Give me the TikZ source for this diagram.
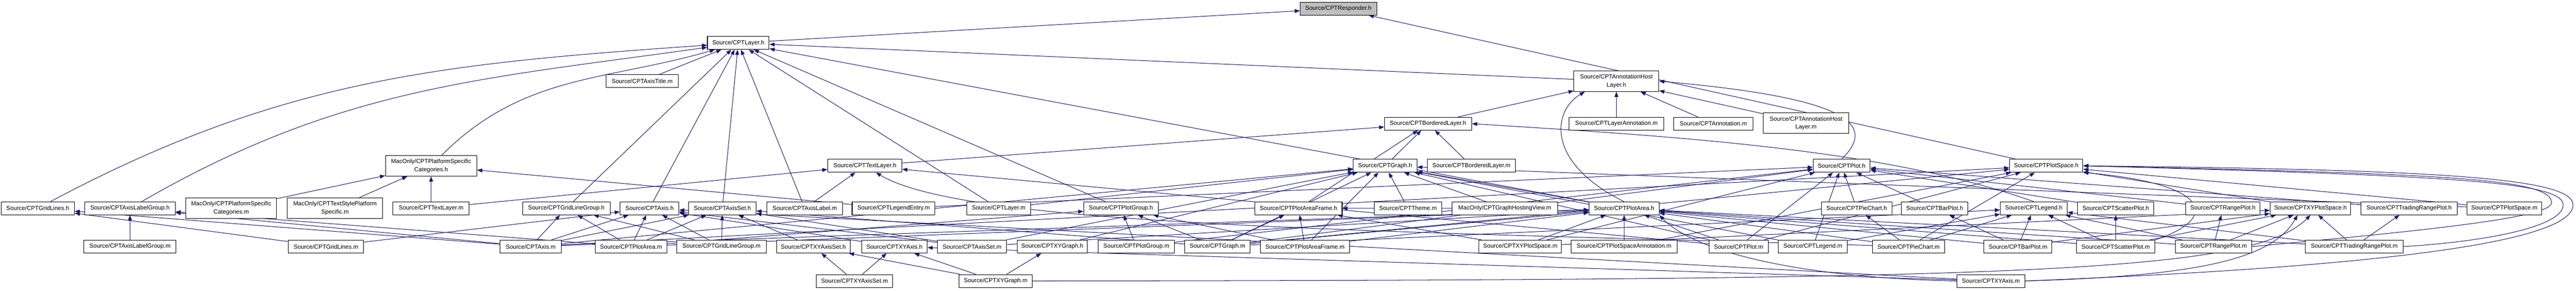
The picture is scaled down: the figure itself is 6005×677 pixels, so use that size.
\documentclass[tikz,border=0pt]{standalone}
\usepackage{fontspec}
\setmainfont{Liberation Sans}
\usetikzlibrary{arrows.meta}
\definecolor{edgeblue}{RGB}{25,25,112}
\definecolor{boxgray}{RGB}{191,191,191}
\pgfdeclarelayer{background}
\pgfsetlayers{background,main}
\tikzset{
    BX/.style ={rectangle, draw, fill=white, inner sep=0pt, minimum height=0.30cm, line width=0.35pt, font=\fontsize{3.95}{5.4}\selectfont},
    BX2/.style ={BX, align=center, minimum height=0.48cm},
    BXG/.style ={BX, fill=boxgray},
    ED/.style ={draw=edgeblue, line width=0.35pt, -{Triangle[length=0.12cm,width=0.09cm]}}}

\begin{document}
\begin{tikzpicture}[x=0.01cm,y=0.01cm]
    \useasboundingbox (0,0) rectangle (6005,677);
    % top of the graph
    \node[BXG, minimum width=1.78cm] (resp) at(3120,657){Source/CPTResponder.h};
    \node[BX, minimum width=1.44cm] (layerh) at(1721,577){Source/CPTLayer.h};
    \node[BX, minimum width=1.69cm] (axistitlem) at(1497,488){Source/CPTAxisTitle.m};
    \node[BX2, minimum width=1.98cm] (ahlh) at(3768,488){Source/CPTAnnotationHost\\Layer.h};
    \node[BX, minimum width=2.03cm] (borderedh) at(3329,389){Source/CPTBorderedLayer.h};
    \node[BX, minimum width=2.20cm] (layerannm) at(3768,389){Source/CPTLayerAnnotation.m};
    \node[BX, minimum width=1.85cm] (annm) at(3994,389){Source/CPTAnnotation.m};
    \node[BX2, minimum width=1.99cm] (ahlm) at(4210,390){Source/CPTAnnotationHost\\Layer.m};
    \node[BX2, minimum width=2.13cm] (platcath) at(1005,291){MacOnly/CPTPlatformSpecific\\Categories.h};
    \node[BX, minimum width=1.73cm] (textlayerh) at(2016,291){Source/CPTTextLayer.h};
    \node[BX, minimum width=1.48cm] (graphh) at(3229,291){Source/CPTGraph.h};
    \node[BX, minimum width=2.06cm] (borderedm) at(3430,291){Source/CPTBorderedLayer.m};
    \node[BX, minimum width=1.33cm] (ploth) at(4293,291){Source/CPTPlot.h};
    \node[BX, minimum width=1.71cm] (plotspaceh) at(4770,291){Source/CPTPlotSpace.h};
    % middle row
    \node[BX, minimum width=1.71cm] (gridlinesh) at(88,192){Source/CPTGridLines.h};
    \node[BX, minimum width=2.11cm] (axislabelgrouph) at(303,192){Source/CPTAxisLabelGroup.h};
    \node[BX2, minimum width=2.11cm] (platcatm) at(539,192){MacOnly/CPTPlatformSpecific\\Categories.m};
    \node[BX2, minimum width=2.22cm] (textstylem) at(781,192){MacOnly/CPTTextStylePlatform\\Specific.m};
    \node[BX, minimum width=1.78cm] (textlayerm) at(1005,192){Source/CPTTextLayer.m};
    \node[BX, minimum width=2.04cm] (gridlinegrouph) at(1320,192){Source/CPTGridLineGroup.h};
    \node[BX, minimum width=1.37cm] (axish) at(1514,192){Source/CPTAxis.h};
    \node[BX, minimum width=1.57cm] (axiseth) at(1684,192){Source/CPTAxisSet.h};
    \node[BX, minimum width=1.76cm] (axislabelm) at(1876,192){Source/CPTAxisLabel.m};
    \node[BX, minimum width=1.93cm] (legendentrym) at(2083,192){Source/CPTLegendEntry.m};
    \node[BX, minimum width=1.48cm] (layerm) at(2328,192){Source/CPTLayer.m};
    \node[BX, minimum width=1.74cm] (plotgrouph) at(2613,192){Source/CPTPlotGroup.h};
    \node[BX, minimum width=2.03cm] (plotareaframeh) at(3027,192){Source/CPTPlotAreaFrame.h};
    \node[BX, minimum width=1.57cm] (themem) at(3282,192){Source/CPTTheme.m};
    \node[BX, minimum width=2.46cm] (hostingviewm) at(3508,192){MacOnly/CPTGraphHostingView.m};
    \node[BX, minimum width=1.63cm] (plotareah) at(3786,192){Source/CPTPlotArea.h};
    \node[BX, minimum width=1.64cm] (piecharth) at(4328,192){Source/CPTPieChart.h};
    \node[BX, minimum width=1.55cm] (barploth) at(4510,192){Source/CPTBarPlot.h};
    \node[BX, minimum width=1.56cm] (legendh) at(4741,192){Source/CPTLegend.h};
    \node[BX, minimum width=1.78cm] (scatterploth) at(4932,192){Source/CPTScatterPlot.h};
    \node[BX, minimum width=1.73cm] (rangeploth) at(5182,192){Source/CPTRangePlot.h};
    \node[BX, minimum width=1.88cm] (xyplotspaceh) at(5386,192){Source/CPTXYPlotSpace.h};
    \node[BX, minimum width=2.24cm] (tradingh) at(5616,192){Source/CPTTradingRangePlot.h};
    \node[BX, minimum width=1.75cm] (plotspacem) at(5838,192){Source/CPTPlotSpace.m};
    % lower rows
    \node[BX, minimum width=2.15cm] (axislabelgroupm) at(303,103){Source/CPTAxisLabelGroup.m};
    \node[BX, minimum width=1.75cm] (gridlinesm) at(760,103){Source/CPTGridLines.m};
    \node[BX, minimum width=1.42cm] (axism) at(1237,103){Source/CPTAxis.m};
    \node[BX, minimum width=1.67cm] (plotaream) at(1471,103){Source/CPTPlotArea.m};
    \node[BX, minimum width=2.08cm] (gridlinegroupm) at(1682,103){Source/CPTGridLineGroup.m};
    \node[BX, minimum width=1.72cm] (xyaxiseth) at(1896,103){Source/CPTXYAxisSet.h};
    \node[BX, minimum width=1.53cm] (xyaxish) at(2085,103){Source/CPTXYAxis.h};
    \node[BX, minimum width=1.61cm] (axisetm) at(2266,103){Source/CPTAxisSet.m};
    \node[BX, minimum width=1.64cm] (xygraphh) at(2453,103){Source/CPTXYGraph.h};
    \node[BX, minimum width=1.78cm] (plotgroupm) at(2649,103){Source/CPTPlotGroup.m};
    \node[BX, minimum width=1.53cm] (graphm) at(2838,103){Source/CPTGraph.m};
    \node[BX, minimum width=2.07cm] (plotareaframem) at(3042,103){Source/CPTPlotAreaFrame.m};
    \node[BX, minimum width=1.92cm] (xyplotspacem) at(3544,103){Source/CPTXYPlotSpace.m};
    \node[BX, minimum width=2.47cm] (plotspaceannm) at(3786,103){Source/CPTPlotSpaceAnnotation.m};
    \node[BX, minimum width=1.38cm] (plotm) at(4053,103){Source/CPTPlot.m};
    \node[BX, minimum width=1.61cm] (legendm) at(4226,103){Source/CPTLegend.m};
    \node[BX, minimum width=1.67cm] (piechartm) at(4449,103){Source/CPTPieChart.m};
    \node[BX, minimum width=1.58cm] (barplotm) at(4704,103){Source/CPTBarPlot.m};
    \node[BX, minimum width=1.82cm] (scatterplotm) at(4932,103){Source/CPTScatterPlot.m};
    \node[BX, minimum width=1.78cm] (rangeplotm) at(5160,103){Source/CPTRangePlot.m};
    \node[BX, minimum width=2.28cm] (tradingm) at(5488,103){Source/CPTTradingRangePlot.m};
    \node[BX, minimum width=1.78cm] (xyaxisetm) at(1992,23){Source/CPTXYAxisSet.m};
    \node[BX, minimum width=1.70cm] (xygraphm) at(2321,23){Source/CPTXYGraph.m};
    \node[BX, minimum width=1.58cm] (xyaxism) at(4641,23){Source/CPTXYAxis.m};
    \begin{pgfonlayer}{background}
    % CPTResponder.h
    \draw[ED] (layerh) -- (resp);
    \draw[ED] (plotspaceh) -- (resp);
    % CPTLayer.h
    \draw[ED] (gridlinesh) to[out=28,in=184] (layerh);
    \draw[ED] (axislabelgrouph) to[out=30,in=188] (layerh);
    \draw[ED] (platcath) to[out=45,in=196] (layerh);
    \draw[ED] (axistitlem) -- (layerh);
    \draw[ED] (gridlinegrouph) -- (layerh);
    \draw[ED] (axish) -- (layerh);
    \draw[ED] (axiseth) -- (layerh);
    \draw[ED] (axislabelm) -- (layerh);
    \draw[ED] (layerm) -- (layerh);
    \draw[ED] (plotgrouph) -- (layerh);
    \draw[ED] (ahlh) -- (layerh);
    \draw[ED] (plotareah) -- (layerh);
    % CPTAnnotationHostLayer.h
    \draw[ED] (borderedh) -- (ahlh);
    \draw[ED] (plotareah.north) .. controls (3600,300) and (3620,420) .. ([xshift=0.26cm]ahlh.south west);
    \draw[ED] (layerannm) -- (ahlh);
    \draw[ED] (annm) -- (ahlh);
    \draw[ED] (ahlm) -- (ahlh);
    \draw[ED] (ploth.north) .. controls (4380,390) and (4300,450) .. (ahlh.east);
    % CPTBorderedLayer.h
    \draw[ED] (textlayerh) -- (borderedh);
    \draw[ED] (graphh) -- (borderedh);
    \draw[ED] (plotareaframeh) -- (borderedh);
    \draw[ED] (borderedm) -- (borderedh);
    \draw[ED] (legendh.north) .. controls (4400,330) and (3900,360) .. (borderedh.east);
    % CPTPlatformSpecificCategories.h
    \draw[ED] (textlayerm) -- (platcath);
    \draw[ED] (platcatm) -- (platcath);
    \draw[ED] (textstylem) -- (platcath);
    \draw[ED] (legendentrym) -- (platcath);
    % CPTTextLayer.h
    \draw[ED] (textlayerm) -- (textlayerh);
    \draw[ED] (axislabelm) -- (textlayerh);
    \draw[ED] (plotm) -- (textlayerh);
    \draw[ED] (piechartm) .. controls (3200,140) and (2250,150) .. (textlayerh);
    % axis headers
    \draw[ED] (gridlinesm) -- (gridlinesh);
    \draw[ED] (axism) -- (gridlinesh);
    \draw[ED] (axislabelgroupm) -- (axislabelgrouph);
    \draw[ED] (axism) -- (axislabelgrouph);
    \draw[ED] (plotaream) -- (axislabelgrouph);
    \draw[ED] (axism) -- (gridlinegrouph);
    \draw[ED] (plotaream) -- (gridlinegrouph);
    \draw[ED] (gridlinegroupm) -- (gridlinegrouph);
    \draw[ED] (axism) -- (axish);
    \draw[ED] (plotaream) -- (axish);
    \draw[ED] (gridlinegroupm) -- (axish);
    \draw[ED] (gridlinesm) -- (axish);
    \draw[ED] (xyaxish) -- (axish);
    \draw[ED] (axisetm) -- (axish);
    \draw[ED] (xyaxism) -- (axish);
    \draw[ED] (axism) -- (axiseth);
    \draw[ED] (plotaream) -- (axiseth);
    \draw[ED] (gridlinegroupm) -- (axiseth);
    \draw[ED] (xyaxiseth) -- (axiseth);
    \draw[ED] (axisetm) -- (axiseth);
    \draw[ED] (graphm) -- (axiseth);
    \draw[ED] (xyaxisetm) -- (xyaxiseth);
    \draw[ED] (xygraphm) -- (xyaxiseth);
    \draw[ED] (xyaxisetm) -- (xyaxish);
    \draw[ED] (xygraphm) -- (xyaxish);
    \draw[ED] (xyaxism) -- (xyaxish);
    \draw[ED] (xygraphm) -- (xygraphh);
    % CPTGraph.h
    \draw[ED] (xygraphh) -- (graphh);
    \draw[ED] (axisetm) -- (graphh);
    \draw[ED] (themem) -- (graphh);
    \draw[ED] (graphm) -- (graphh);
    \draw[ED] (layerm) -- (graphh);
    \draw[ED] (hostingviewm) -- (graphh);
    \draw[ED] (plotareah) -- (graphh);
    \draw[ED] (axism) -- (graphh);
    \draw[ED] (plotm) -- (graphh);
    \draw[ED] (plotareaframem) -- (graphh);
    \draw[ED] (legendm) -- (graphh);
    \draw[ED] (plotspacem) -- (graphh);
    % CPTPlotGroup.h and CPTPlotAreaFrame.h
    \draw[ED] (plotgroupm) -- (plotgrouph);
    \draw[ED] (plotaream) -- (plotgrouph);
    \draw[ED] (graphm) -- (plotgrouph);
    \draw[ED] (plotareaframem) -- (plotgrouph);
    \draw[ED] (plotareaframem) -- (plotareaframeh);
    \draw[ED] (graphm) -- (plotareaframeh);
    \draw[ED] (hostingviewm) -- (plotareaframeh);
    \draw[ED] (xyplotspacem) -- (plotareaframeh);
    % CPTPlotArea.h
    \draw[ED] (axism) -- (plotareah);
    \draw[ED] (plotaream) -- (plotareah);
    \draw[ED] (axisetm) -- (plotareah);
    \draw[ED] (graphm) -- (plotareah);
    \draw[ED] (plotareaframem) -- (plotareah);
    \draw[ED] (xyplotspacem) -- (plotareah);
    \draw[ED] (plotspaceannm) -- (plotareah);
    \draw[ED] (xyaxism.west) .. controls (4200,30) and (3950,90) .. (plotareah.south east);
    \draw[ED] (plotm) -- (plotareah);
    \draw[ED] (piechartm) -- (plotareah);
    \draw[ED] (barplotm) -- (plotareah);
    \draw[ED] (scatterplotm) -- (plotareah);
    \draw[ED] (rangeplotm) -- (plotareah);
    \draw[ED] (tradingm) -- (plotareah);
    % CPTPlot.h
    \draw[ED] (piecharth) -- (ploth);
    \draw[ED] (barploth) -- (ploth);
    \draw[ED] (scatterploth) -- (ploth);
    \draw[ED] (rangeploth) -- (ploth);
    \draw[ED] (tradingh) -- (ploth);
    \draw[ED] (plotm) -- (ploth);
    \draw[ED] (legendm) -- (ploth);
    \draw[ED] (legendentrym) -- (ploth);
    \draw[ED] (graphm) -- (ploth);
    \draw[ED] (plotgroupm) -- (ploth);
    \draw[ED] (xyplotspacem) -- (ploth);
    % plot headers
    \draw[ED] (piechartm) -- (piecharth);
    \draw[ED] (barplotm) -- (barploth);
    \draw[ED] (scatterplotm) -- (scatterploth);
    \draw[ED] (rangeplotm) -- (rangeploth);
    \draw[ED] (tradingm) -- (tradingh);
    \draw[ED] (legendm) -- (legendh);
    \draw[ED] (graphm) -- (legendh);
    \draw[ED] (barplotm) -- (legendh);
    \draw[ED] (scatterplotm) -- (legendh);
    \draw[ED] (piechartm) -- (legendh);
    \draw[ED] (rangeplotm) -- (legendh);
    \draw[ED] (tradingm) -- (legendh);
    % CPTPlotSpace.h
    \draw[ED] (xyplotspaceh) -- (plotspaceh);
    \draw[ED] (plotspacem) -- (plotspaceh);
    \draw[ED] (piechartm) -- (plotspaceh);
    \draw[ED] (rangeplotm.east) .. controls (5650,140) and (5948,170) .. (5948,205) .. controls (5948,262) and (5700,272) .. (plotspaceh.east);
    \draw[ED] (tradingm.east) .. controls (5800,115) and (5975,150) .. (5975,200) .. controls (5975,255) and (5700,268) .. (plotspaceh.east);
    \draw[ED] (xyaxism.east) .. controls (5400,50) and (5998,100) .. (5998,200) .. controls (5998,262) and (5700,282) .. (plotspaceh.east);
    \draw[ED] (scatterplotm.north east) .. controls (5180,170) and (5150,250) .. (plotspaceh.south east);
    \draw[ED] (graphm) -- (plotspaceh);
    \draw[ED] (axism) -- (plotspaceh);
    \draw[ED] (plotm) -- (plotspaceh);
    \draw[ED] (plotspaceannm) -- (plotspaceh);
    % CPTXYPlotSpace.h
    \draw[ED] (xyplotspacem) -- (xyplotspaceh);
    \draw[ED] (xygraphm.east) .. controls (4700,25) and (5250,40) .. (xyplotspaceh.south);
    \draw[ED] (xyaxism.east) .. controls (5150,35) and (5300,80) .. ([xshift=-0.3cm]xyplotspaceh.south);
    \draw[ED] (barplotm) -- (xyplotspaceh);
    \draw[ED] (scatterplotm) -- (xyplotspaceh);
    \draw[ED] (rangeplotm) -- (xyplotspaceh);
    \draw[ED] (tradingm) -- (xyplotspaceh);
    \end{pgfonlayer}
\end{tikzpicture}
\end{document}
